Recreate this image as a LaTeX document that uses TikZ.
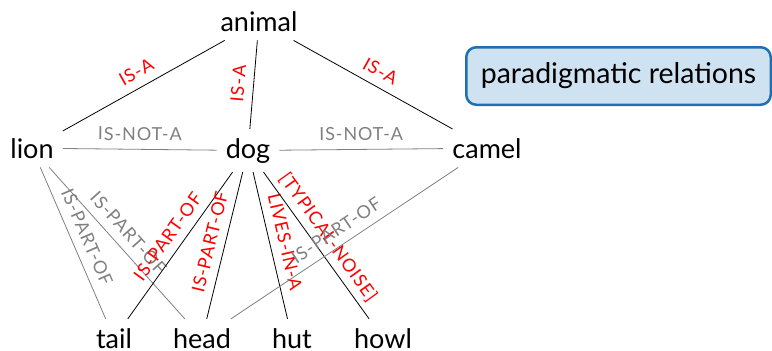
\documentclass[tikz,border=0pt]{standalone}
\usepackage{fontspec}
\setmainfont{Lato}
\newfontfamily\labfont[LetterSpace=5]{Lato}
\definecolor{boxblue}{HTML}{1F6FB2}
\definecolor{boxfill}{HTML}{CFE2F2}
\definecolor{relred}{HTML}{FF0000}
\definecolor{relgray}{HTML}{808080}
\begin{document}
\begin{tikzpicture}[x=1pt,y=-1pt,
  word/.style={font=\fontsize{27}{30}\selectfont, inner sep=9pt, anchor=base},
  lab/.style={font=\labfont\fontsize{18}{20}\selectfont, sloped, above, inner sep=6.5pt,
    text depth=2pt, midway},
  strong/.style={draw=black, line width=0.8pt},
  weak/.style={draw=relgray, line width=0.8pt},
  redlab/.style={lab, text=relred},
  graylab/.style={lab, text=relgray},
  titlebox/.style={draw=boxblue, fill=boxfill, line width=2.5pt, rounded corners=10pt,
    minimum width=304.5pt, minimum height=57.5pt, font=\fontsize{28.5}{32}\selectfont}
]
\useasboundingbox (0,0) rectangle (772,351);
\node[word] (animal) at (259,31) {animal};
\node[word] (lion) at (32,158) {lion};
\node[word] (dog) at (248,158) {dog};
\node[word] (camel) at (487,158) {camel};
\node[word] (tail) at (114,348) {tail};
\node[word] (head) at (202,348) {head};
\node[word] (hut) at (292,348) {hut};
\node[word] (howl) at (383,348) {howl};
\node[titlebox] (title) at (618.5,76) {paradigmatic relations};

\draw[strong] (animal) -- node[redlab] {IS-A} (lion);
\draw[strong] (animal) -- node[redlab] {IS-A} (dog);
\draw[strong] (animal) -- node[redlab] {IS-A} (camel);
\draw[weak] (lion) -- node[graylab] {IS-NOT-A} (dog);
\draw[weak] (dog) -- node[graylab] {IS-NOT-A} (camel);
\draw[weak] (lion) -- node[graylab] {IS-PART-OF} (tail);
\draw[weak] (lion) -- node[graylab] {IS-PART-OF} (head);
\draw[strong] (dog) -- node[redlab] {IS-PART-OF} (tail);
\draw[strong] (dog) -- node[redlab] {IS-PART-OF} (head);
\draw[strong] (dog) -- node[redlab] {LIVES-IN-A} (hut);
\draw[strong] (dog) -- node[redlab] {[TYPICAL-NOISE]} (howl);
\draw[weak] (camel) -- node[graylab] {IS-PART-OF} (head);
\end{tikzpicture}
\end{document}
